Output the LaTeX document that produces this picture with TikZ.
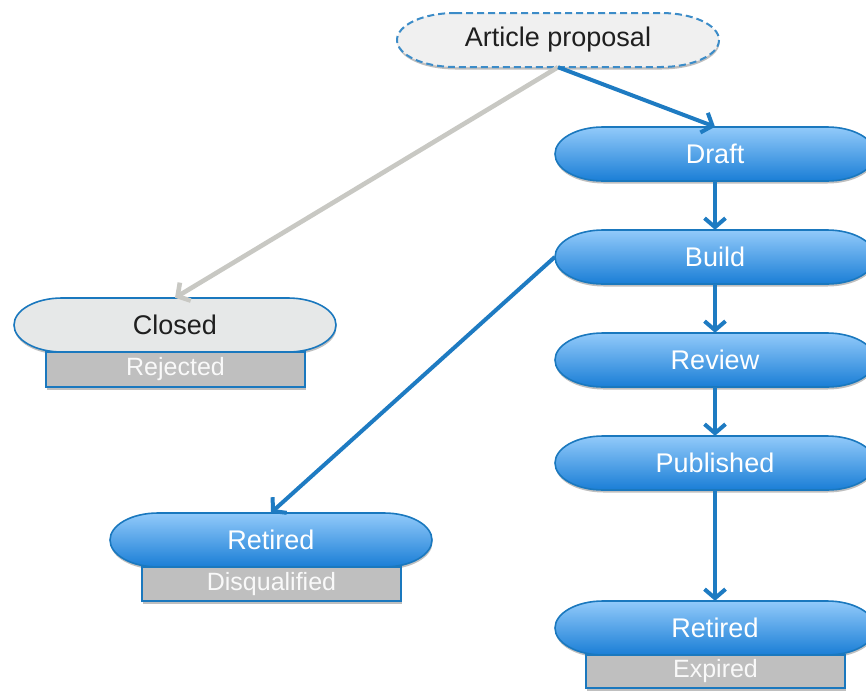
\documentclass[tikz,border=0pt]{standalone}
\usepackage{fontspec}
\setmainfont{Liberation Sans}
\usetikzlibrary{arrows.meta,calc,shadows}

\definecolor{lineblue}{HTML}{1E7BC2}
\definecolor{edgeblue}{HTML}{1A78BE}
\definecolor{topblue}{HTML}{92CAFA}
\definecolor{botblue}{HTML}{1A7ED6}
\definecolor{rejectgray}{HTML}{C8C8C3}
\definecolor{tagfill}{HTML}{BFBFBF}
\definecolor{lightfill}{HTML}{F0F0F0}
\definecolor{closedfill}{HTML}{E6E8E8}

\tikzset{
  soft shadow/.style={drop shadow={shadow xshift=0.5pt,shadow yshift=-2.5pt,opacity=0.25,fill=black}},
  bluecap/.style={draw=edgeblue,line width=1.6pt,top color=topblue,bottom color=botblue,soft shadow},
  graycap/.style={draw=edgeblue,line width=1.6pt,fill=closedfill,soft shadow},
  propcap/.style={draw=edgeblue!85,line width=2pt,dash pattern=on 7pt off 4pt,fill=lightfill,soft shadow},
  captext/.style={shape=rectangle,inner sep=0pt,minimum height=54pt,font=\fontsize{27}{32}\selectfont},
  tag/.style={shape=rectangle,draw=edgeblue,line width=1.4pt,fill=tagfill,text=white!95!gray,
    minimum width=259pt,minimum height=34pt,inner sep=0pt,font=\fontsize{25}{30}\selectfont,soft shadow,
    execute at begin node={\lower2.5pt\hbox\bgroup},execute at end node={\egroup}},
  flow/.style={draw=lineblue,line width=4pt,-{Straight Barb[length=9pt,width=21pt]}},
  dropflow/.style={draw=rejectgray,line width=4.6pt,-{Straight Barb[length=9pt,width=21pt]}},
}

% #1 shape style, #2 text colour, #3 name, #4 centre, #5 half width, #6 end radius, #7 text
\newcommand\stagecap[7]{%
  \path[#1] ($(#4)+(-#5+#6,27)$) -- ($(#4)+(#5-#6,27)$)
    arc[start angle=90,end angle=-90,x radius=#6,y radius=27]
    -- ($(#4)+(-#5+#6,-27)$)
    arc[start angle=270,end angle=90,x radius=#6,y radius=27] -- cycle;
  \node[captext,text=#2,minimum width=2*#5] (#3) at (#4) {#7};
}

\begin{document}
\begin{tikzpicture}[x=1pt,y=1pt]
\useasboundingbox (0,0) rectangle (866,-691);

% states
\stagecap{propcap}{black!88}{prop}{558,-40}{161}{58}{Article proposal}
\stagecap{bluecap}{white}{draft}{715,-154}{160}{48}{Draft}
\stagecap{bluecap}{white}{build}{715,-257}{160}{48}{Build}
\stagecap{bluecap}{white}{review}{715,-360}{160}{48}{Review}
\stagecap{bluecap}{white}{published}{715,-463}{160}{48}{Published}
\stagecap{bluecap}{white}{retiredR}{715,-628}{160}{48}{Retired}
\stagecap{graycap}{black!88}{closed}{175,-325}{161}{48}{Closed}
\stagecap{bluecap}{white}{retiredL}{271,-540}{161}{48}{Retired}

% reason tags
\node[tag,minimum height=35pt] (rejected) at (175.5,-369.5) {Rejected};
\node[tag] (disq) at (271.5,-584) {Disqualified};
\node[tag,minimum height=33pt] (expired) at (715.5,-671.5) {Expired};

% transitions
\draw[dropflow] (prop.south) -- (closed.north);
\draw[flow] (prop.south) -- (draft.north);
\draw[flow] (draft.south) -- (build.north);
\draw[flow] (build.south) -- (review.north);
\draw[flow] (review.south) -- (published.north);
\draw[flow] (published.south) -- (retiredR.north);
\draw[flow] (build.west) -- (retiredL.north);
\end{tikzpicture}
\end{document}
